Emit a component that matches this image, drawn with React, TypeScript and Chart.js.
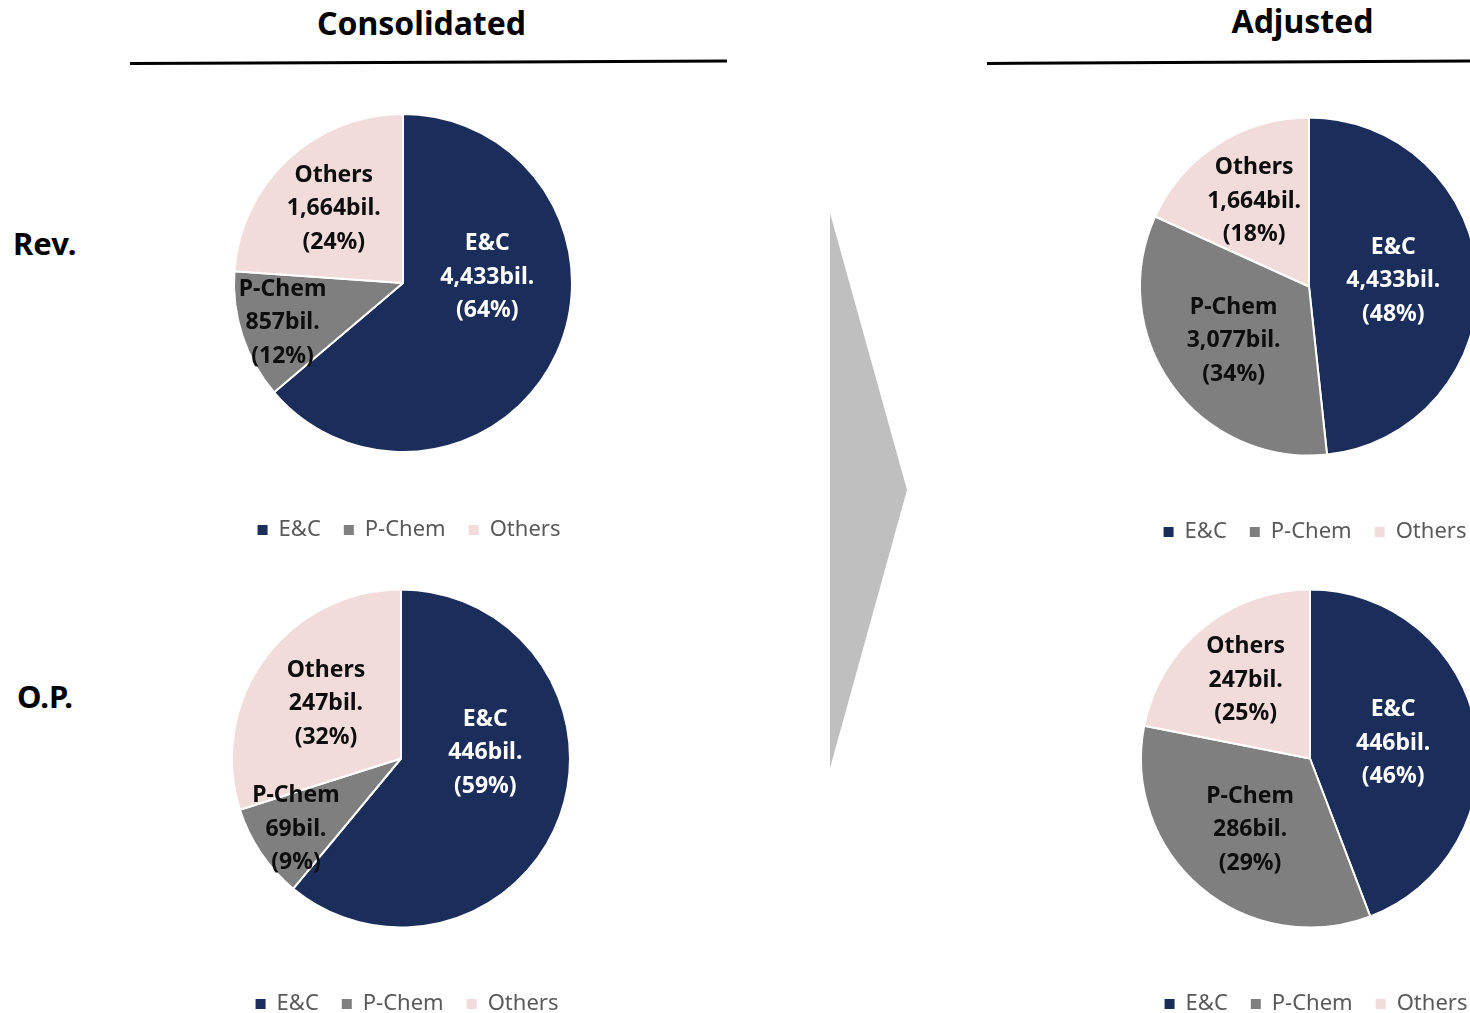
import React, { useEffect, useRef } from "react";
import { Chart, registerables } from "chart.js";

Chart.register(...registerables);

// ---------- data ----------
const segments = ["E&C", "P-Chem", "Others"];
// amounts printed in the labels (bil.)
const revConsolidated = [4433, 857, 1664];
const revAdjusted = [4433, 3077, 1664];
const opConsolidated = [446, 69, 247];
const opAdjusted = [446, 286, 247];
// shares printed in the labels (%)
const revConsolidatedPct = [64, 12, 24];
const revAdjustedPct = [48, 34, 18];
const opConsolidatedPct = [59, 9, 32];
const opAdjustedPct = [46, 29, 25];
// slice sizes as drawn in the picture (%)
const revConsolidatedSlices = [63.8, 12.3, 23.9];
const revAdjustedSlices = [48.3, 33.5, 18.2];
const opConsolidatedSlices = [61.0, 9.1, 29.9];
const opAdjustedSlices = [44.2, 33.9, 21.9];

const columnTitles = ["Consolidated", "Adjusted"];
const rowTitles = ["Rev.", "O.P."];
const unit = "bil.";

// ---------- styles ----------
const COLORS = ["#1B2D5B", "#7F7F7F", "#F2DCDB"];
const LABEL_COLORS = ["#FFFFFF", "#0D0D0D", "#0D0D0D"];
const FONT = "'Noto Sans', 'Open Sans', sans-serif";
const LEG_FONT = 22;
const LEG_PAD = 23;
const LEG_TEXT_OFF = LEG_PAD + LEG_FONT / 2 - 2;
const LEG_H = LEG_FONT + LEG_PAD + 10;
const LEG_SHIFT = 6;
const RADIUS = 169;

const sliceLabels = {
  id: "sliceLabels",
  afterLayout(chart: any) {
    const lg = chart.legend;
    if (lg) {
      lg.left += LEG_SHIFT;
      lg.right += LEG_SHIFT;
    }
  },
  afterDatasetsDraw(chart: any) {
    const ctx = chart.ctx as CanvasRenderingContext2D;
    const meta = chart.getDatasetMeta(0);
    const names = chart.data.labels as string[];
    const { amounts, pcts } = chart.options.plugins.sliceLabels;
    ctx.save();
    ctx.font = `bold 23px ${FONT}`;
    ctx.textAlign = "center";
    ctx.textBaseline = "middle";
    meta.data.forEach((arc: any, i: number) => {
      const { x, y, startAngle, endAngle, outerRadius } = arc.getProps(
        ["x", "y", "startAngle", "endAngle", "outerRadius"],
        true
      );
      const share = (endAngle - startAngle) / (2 * Math.PI);
      let mid = (startAngle + endAngle) / 2;
      let dist: number;
      if (share > 0.4) {
        dist = 0.5;
        mid = Math.min(mid, -Math.PI / 2 + (86 * Math.PI) / 180);
      } else if (share < 0.15) {
        dist = 0.75;
      } else if (share < 0.27) {
        dist = 0.6;
      } else {
        dist = 0.55;
      }
      const lx = x + Math.cos(mid) * outerRadius * dist;
      const ly = y + Math.sin(mid) * outerRadius * dist;
      const lines = [
        names[i],
        amounts[i].toLocaleString("en-US") + unit,
        `(${pcts[i]}%)`,
      ];
      ctx.fillStyle = LABEL_COLORS[i];
      lines.forEach((t, k) => ctx.fillText(t, lx, ly + (k - 1) * 33.5));
    });
    ctx.restore();
  },
};

function SegmentPie({
  slices,
  amounts,
  pcts,
  cx,
  cy,
  legendY,
}: {
  slices: number[];
  amounts: number[];
  pcts: number[];
  cx: number;
  cy: number;
  legendY: number;
}) {
  const ref = useRef<HTMLCanvasElement>(null);
  const W = 440;
  const areaBottom = legendY - LEG_TEXT_OFF;
  const areaTop = 2 * cy - areaBottom;
  const H = Math.round(areaBottom - areaTop + LEG_H);

  useEffect(() => {
    const chart = new Chart(ref.current as HTMLCanvasElement, {
      type: "pie",
      data: {
        labels: segments,
        datasets: [
          {
            data: slices,
            backgroundColor: COLORS,
            borderColor: "#FFFFFF",
            borderWidth: 2,
            radius: RADIUS,
          } as any,
        ],
      },
      options: {
        responsive: false,
        animation: false,
        events: [],
        layout: { padding: 0 },
        plugins: {
          tooltip: { enabled: false },
          sliceLabels: { amounts, pcts },
          legend: {
            display: true,
            position: "bottom",
            labels: {
              boxWidth: 10,
              boxHeight: 10,
              padding: LEG_PAD,
              color: "#595959",
              font: { family: FONT, size: LEG_FONT },
              generateLabels: (c: any) =>
                (Chart as any).overrides.pie.plugins.legend.labels
                  .generateLabels(c)
                  .map((it: any) => ({ ...it, lineWidth: 0 })),
            },
          },
        },
      } as any,
      plugins: [sliceLabels],
    });
    return () => chart.destroy();
  }, []);

  return (
    <canvas
      ref={ref}
      width={W}
      height={H}
      style={{
        position: "absolute",
        left: cx - W / 2,
        top: areaTop,
        width: W,
        height: H,
      }}
    />
  );
}

export default function App() {
  const bold = { fontFamily: FONT, fontWeight: 700, fill: "#000" } as const;
  return (
    <div
      style={{
        position: "absolute",
        left: 0,
        top: 0,
        width: 1470,
        height: 1013,
        overflow: "hidden",
        background: "#FFFFFF",
      }}
    >
      <svg
        width={1470}
        height={1013}
        style={{ position: "absolute", left: 0, top: 0 }}
      >
        <text x={421.5} y={35} fontSize={32} textAnchor="middle" style={bold}>
          {columnTitles[0]}
        </text>
        <line x1={130} y1={63.5} x2={727} y2={61} stroke="#000" strokeWidth={3} />
        <text x={1302.5} y={33} fontSize={32} textAnchor="middle" style={bold}>
          {columnTitles[1]}
        </text>
        <line x1={987} y1={63.5} x2={1470} y2={61} stroke="#000" strokeWidth={3} />
        <text x={13} y={255} fontSize={31} textAnchor="start" style={bold}>
          {rowTitles[0]}
        </text>
        <text x={17} y={708} fontSize={31} textAnchor="start" style={bold}>
          {rowTitles[1]}
        </text>
        <polygon points="830,213 907,490 830,768" fill="#BFBFBF" />
      </svg>
      <SegmentPie
        slices={revConsolidatedSlices}
        amounts={revConsolidated}
        pcts={revConsolidatedPct}
        cx={402.5}
        cy={283}
        legendY={528}
      />
      <SegmentPie
        slices={opConsolidatedSlices}
        amounts={opConsolidated}
        pcts={opConsolidatedPct}
        cx={401}
        cy={758.5}
        legendY={1002}
      />
      <SegmentPie
        slices={revAdjustedSlices}
        amounts={revAdjusted}
        pcts={revAdjustedPct}
        cx={1309}
        cy={286.5}
        legendY={530}
      />
      <SegmentPie
        slices={opAdjustedSlices}
        amounts={opAdjusted}
        pcts={opAdjustedPct}
        cx={1310}
        cy={758.5}
        legendY={1002}
      />
    </div>
  );
}
